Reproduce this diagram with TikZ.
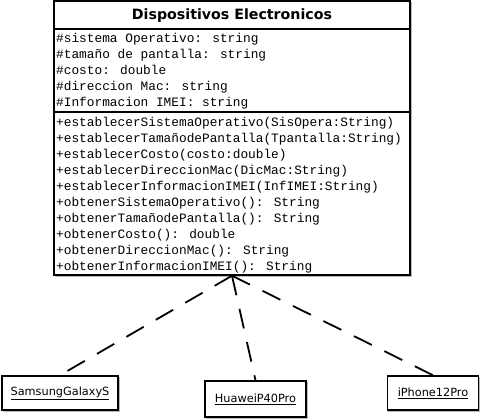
\documentclass[tikz,border=0pt]{standalone}
\usepackage{fontspec}
\setmainfont{DejaVu Sans}
\newfontfamily\monof{Liberation Mono}
\usetikzlibrary{shadows}
\begin{document}
\begin{tikzpicture}[x=1pt,y=-1pt,
  umlbox/.style={draw=black, line width=1.5pt, fill=white, inner sep=0pt,
    general shadow={draw=gray!55, fill=none, line width=1.2pt, shadow xshift=1.4pt, shadow yshift=-1.4pt}},
  divider/.style={draw=black, line width=1.1pt},
  member/.style={anchor=base west, inner sep=0pt, font=\monof\fontsize{12.8}{14}\selectfont},
  titletext/.style={anchor=base, inner sep=0pt, font=\bfseries\fontsize{14.2}{16}\selectfont},
  childbox/.style={umlbox, font=\fontsize{11.3}{13}\selectfont},
  dep/.style={draw=black, line width=1.8pt, dash pattern=on 20pt off 14pt}
]
\useasboundingbox (0,0) rectangle (480,419);

% main class box
\node[umlbox, minimum width=356pt, minimum height=274pt] (main) at (232,138) {};
\coordinate (d1l) at (54,29);  \coordinate (d1r) at (410,29);
\coordinate (d2l) at (54,112); \coordinate (d2r) at (410,112);
\draw[divider] (d1l) -- (d1r);
\draw[divider] (d2l) -- (d2r);

\node[titletext] (title) at (232,20) {Dispositivos Electronicos};

\node[member] (a1) at (56,43) {\#sistema Operativo: string};
\node[member] (a2) at (56,59) {\#tamaño de pantalla: string};
\node[member] (a3) at (56,75) {\#costo: double};
\node[member] (a4) at (56,91) {\#direccion Mac: string};
\node[member] (a5) at (56,107) {\#Informacion IMEI: string};

\node[member] (m1) at (56,127) {+establecerSistemaOperativo(SisOpera:String)};
\node[member] (m2) at (56,143) {+establecerTamañodePantalla(Tpantalla:String)};
\node[member] (m3) at (56,159) {+establecerCosto(costo:double)};
\node[member] (m4) at (56,175) {+establecerDireccionMac(DicMac:String)};
\node[member] (m5) at (56,191) {+establecerInformacionIMEI(InfIMEI:String)};
\node[member] (m6) at (56,207) {+obtenerSistemaOperativo(): String};
\node[member] (m7) at (56,223) {+obtenerTamañodePantalla(): String};
\node[member] (m8) at (56,239) {+obtenerCosto(): double};
\node[member] (m9) at (56,255) {+obtenerDireccionMac(): String};
\node[member] (m10) at (56,271) {+obtenerInformacionIMEI(): String};

% child objects
\node[childbox, minimum width=116pt, minimum height=34pt] (sam) at (60,393) {\underline{SamsungGalaxyS}};
\node[childbox, minimum width=101pt, minimum height=36pt] (hua) at (255.5,399) {\underline{HuaweiP40Pro}};
\node[childbox, minimum width=91pt, minimum height=34pt] (iph) at (433,393) {\underline{iPhone12Pro}};

% connectors
\draw[dep] (main.south) -- (sam.north);
\draw[dep] (main.south) -- (hua.north);
\draw[dep] (main.south) -- (iph.north);
\end{tikzpicture}
\end{document}
